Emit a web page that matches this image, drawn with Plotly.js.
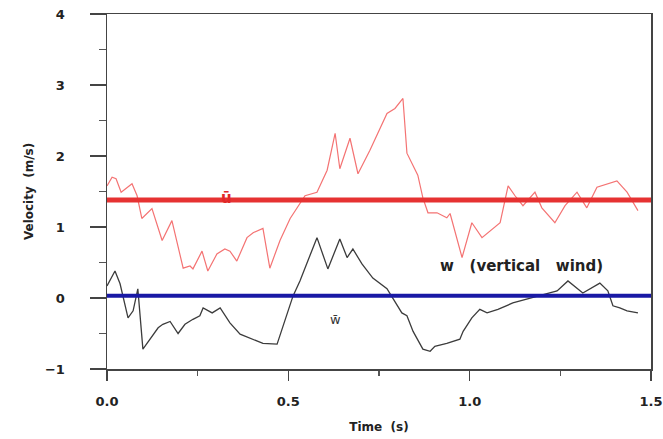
<!DOCTYPE html>
<html>
<head>
<meta charset="utf-8">
<script src="https://cdn.plot.ly/plotly-3.0.1.min.js"></script>
<style>body{margin:0;background:#fff}#chart{width:663px;height:439px}</style>
</head>
<body>
<div id="chart"></div>
<script>
// Horizontal velocity (red trace)
const uTime = [0, 0.014, 0.025, 0.039, 0.069, 0.083, 0.096, 0.124, 0.152, 0.179, 0.21, 0.229, 0.237, 0.262, 0.278, 0.303, 0.325, 0.339, 0.358, 0.386, 0.403, 0.43, 0.449, 0.477, 0.505, 0.532, 0.546, 0.579, 0.607, 0.629, 0.642, 0.67, 0.692, 0.725, 0.772, 0.794, 0.816, 0.827, 0.857, 0.871, 0.885, 0.91, 0.937, 0.946, 0.979, 1.006, 1.034, 1.084, 1.106, 1.125, 1.147, 1.18, 1.199, 1.235, 1.263, 1.296, 1.323, 1.351, 1.406, 1.434, 1.464];
const uVel = [1.58, 1.70, 1.68, 1.49, 1.61, 1.44, 1.12, 1.26, 0.81, 1.09, 0.42, 0.45, 0.41, 0.66, 0.38, 0.62, 0.69, 0.66, 0.52, 0.85, 0.92, 0.98, 0.42, 0.81, 1.12, 1.34, 1.44, 1.49, 1.80, 2.32, 1.82, 2.25, 1.75, 2.08, 2.60, 2.67, 2.81, 2.04, 1.73, 1.41, 1.20, 1.20, 1.13, 1.19, 0.57, 1.06, 0.85, 1.06, 1.58, 1.44, 1.30, 1.49, 1.27, 1.06, 1.30, 1.49, 1.27, 1.56, 1.65, 1.49, 1.23];
// Vertical wind (black trace)
const wTime = [0, 0.022, 0.036, 0.058, 0.072, 0.085, 0.099, 0.119, 0.141, 0.154, 0.174, 0.196, 0.215, 0.237, 0.256, 0.265, 0.29, 0.312, 0.339, 0.367, 0.403, 0.43, 0.469, 0.496, 0.513, 0.532, 0.551, 0.579, 0.609, 0.642, 0.662, 0.678, 0.703, 0.733, 0.772, 0.789, 0.813, 0.827, 0.844, 0.871, 0.891, 0.904, 0.937, 0.973, 0.982, 1.006, 1.028, 1.048, 1.078, 1.119, 1.166, 1.213, 1.241, 1.271, 1.312, 1.359, 1.381, 1.395, 1.414, 1.434, 1.464];
const wVel = [0.17, 0.38, 0.20, -0.28, -0.18, 0.13, -0.72, -0.57, -0.42, -0.37, -0.33, -0.50, -0.37, -0.30, -0.25, -0.14, -0.21, -0.14, -0.35, -0.51, -0.58, -0.64, -0.65, -0.23, 0.03, 0.24, 0.48, 0.85, 0.41, 0.83, 0.57, 0.69, 0.48, 0.28, 0.13, -0.01, -0.21, -0.25, -0.47, -0.72, -0.75, -0.68, -0.64, -0.58, -0.47, -0.28, -0.16, -0.21, -0.16, -0.07, -0.01, 0.06, 0.10, 0.24, 0.07, 0.21, 0.10, -0.11, -0.14, -0.18, -0.21];
// Means
const meanSpan = [0, 1.5];
const uMean = 1.38;
const wMean = 0.03;
const xTicks = [0, 0.5, 1.0, 1.5];
const xTickText = ['0.0', '0.5', '1.0', '1.5'];
const yTicks = [-1, 0, 1, 2, 3, 4];

const traces = [
  {x: uTime, y: uVel, mode: 'lines', line: {color: 'rgb(244,115,115)', width: 1.2}, hoverinfo: 'skip'},
  {x: wTime, y: wVel, mode: 'lines', line: {color: 'rgb(60,60,60)', width: 1.3}, hoverinfo: 'skip'},
  {x: meanSpan, y: [uMean, uMean], mode: 'lines', line: {color: 'rgb(230,50,50)', width: 5}, hoverinfo: 'skip'},
  {x: meanSpan, y: [wMean, wMean], mode: 'lines', line: {color: 'rgb(25,25,165)', width: 4}, hoverinfo: 'skip'}
];

const fam = 'DejaVu Sans, Verdana, sans-serif';
const fnt = {family: fam, size: 13, color: '#222', weight: 'bold'};

const layout = {
  width: 663, height: 439,
  margin: {l: 107, r: 12, t: 14, b: 70},
  paper_bgcolor: '#fff', plot_bgcolor: '#fff',
  showlegend: false,
  xaxis: {
    range: [0, 1.5], tickvals: xTicks, ticktext: xTickText,
    ticks: 'outside', ticklen: 10, tickwidth: 1.5, tickcolor: '#444',
    minor: {dtick: 0.25, ticks: 'outside', ticklen: 5, tickwidth: 1.2, tickcolor: '#555'},
    showline: true, linecolor: '#444', linewidth: 1.5, mirror: true,
    showgrid: false, zeroline: false,
    tickfont: fnt, ticklabelstandoff: 10,
    title: {text: 'Time  (s)', font: {family: fam, size: 12, color: '#222', weight: 'bold'}, standoff: 14}
  },
  yaxis: {
    range: [-1, 4], tickvals: yTicks,
    ticks: 'outside', ticklen: 16, tickwidth: 1.5, tickcolor: '#444',
    minor: {dtick: 0.5, ticks: 'outside', ticklen: 7, tickwidth: 1.2, tickcolor: '#555'},
    showline: true, linecolor: '#444', linewidth: 1.5, mirror: true,
    showgrid: false, zeroline: false,
    tickfont: fnt, ticklabelstandoff: 22,
    title: {text: 'Velocity  (m/s)', font: {family: fam, size: 12, color: '#222', weight: 'bold'}, standoff: 8}
  },
  annotations: [
    {x: 1.144, y: 0.45, xref: 'x', yref: 'y', text: 'w   (vertical   wind)', showarrow: false,
     font: {family: fam, size: 15, color: '#222', weight: 'bold'}},
    {x: 0.33, y: 1.41, xref: 'x', yref: 'y', text: 'ū', showarrow: false,
     font: {family: fam, size: 15, color: 'rgb(225,40,40)', weight: 'bold'}},
    {x: 0.63, y: -0.3, xref: 'x', yref: 'y', text: 'w̄', showarrow: false,
     font: {family: fam, size: 13, color: '#333'}}
  ]
};

Plotly.newPlot('chart', traces, layout, {staticPlot: true, displayModeBar: false});
</script>
</body>
</html>
